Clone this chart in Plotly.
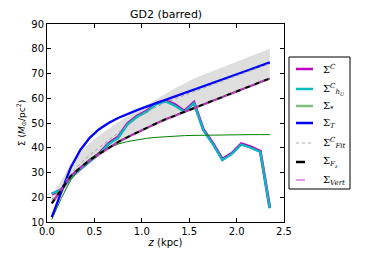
import plotly.graph_objects as go

z = [0.05, 0.15, 0.25, 0.35, 0.45, 0.55, 0.65, 0.75, 0.85, 0.95, 1.05, 1.15,
     1.25, 1.35, 1.45, 1.55, 1.65, 1.75, 1.85, 1.95, 2.05, 2.15, 2.25, 2.35]

sigma_c = [21.3, 23.0, 28.2, 31.5, 34.7, 37.7, 41.8, 44.3, 49.8, 52.8, 54.8, 57.9,
           59.1, 57.4, 54.8, 58.3, 47.3, 41.8, 35.3, 37.8, 41.6, 40.3, 38.6, 15.8]
sigma_c_hu = [21.5, 23.0, 28.0, 31.5, 34.5, 37.5, 41.5, 44.0, 49.5, 52.5, 54.5, 57.5,
              58.7, 57.0, 54.5, 58.0, 47.0, 41.5, 35.0, 37.5, 41.3, 40.0, 38.3, 15.5]
sigma_star = [11.0, 19.5, 27.0, 32.0, 35.5, 38.0, 40.0, 41.5, 42.5, 43.3, 43.8, 44.2,
              44.5, 44.7, 44.9, 45.0, 45.1, 45.1, 45.2, 45.2, 45.2, 45.3, 45.3, 45.3]
sigma_t = [12.0, 22.0, 32.0, 39.0, 44.0, 47.5, 50.0, 52.0, 53.7, 55.2, 56.6, 58.0,
           59.3, 60.6, 62.0, 63.6, 65.0, 66.3, 67.6, 68.9, 70.3, 71.7, 73.1, 74.5]
sigma_fit = [19.0, 24.5, 29.5, 33.5, 37.0, 40.0, 43.0, 46.0, 49.0, 52.0, 54.5, 56.5,
             58.3, 59.8, 61.3, 62.8, 64.2, 65.6, 67.0, 68.4, 69.8, 71.2, 72.6, 74.0]
sigma_fz = [17.5, 23.0, 28.5, 32.0, 35.0, 37.5, 40.0, 42.3, 44.3, 46.2, 48.0, 49.8,
            51.5, 53.0, 54.6, 55.8, 57.3, 58.8, 60.3, 61.9, 63.4, 64.9, 66.5, 68.0]
sigma_vert = sigma_fz
band_upper = [20.5, 27.0, 33.0, 38.0, 42.0, 45.0, 47.8, 50.3, 52.7, 55.0, 57.2, 59.5,
              62.0, 64.0, 66.0, 68.0, 69.5, 71.0, 72.5, 74.0, 75.5, 77.0, 78.5, 80.0]
band_lower = [17.0, 21.0, 26.5, 30.5, 34.0, 36.5, 39.0, 41.5, 43.5, 45.5, 47.3, 49.0,
              50.7, 52.3, 54.0, 55.5, 57.0, 58.5, 60.0, 61.5, 63.0, 64.5, 66.0, 68.0]

x_ticks = [0.0, 0.5, 1.0, 1.5, 2.0, 2.5]
y_ticks = [10, 20, 30, 40, 50, 60, 70, 80, 90]

legend_names = [
    "Σ<sup><i>C</i></sup>",
    "Σ<sup><i>C</i></sup><sub><i>h<sub>U</sub></i></sub>",
    "Σ<sub>*</sub>",
    "Σ<sub><i>T</i></sub>",
    "Σ<sup><i>C</i></sup><sub><i>Fit</i></sub>",
    "Σ<sub><i>F<sub>z</sub></i></sub>",
    "Σ<sub><i>Vert</i></sub>",
]
legend_colors = ["#bf00bf", "#00bfbf", "#7fbf7f", "#0000ff", "#aaaaaa", "#000000", "#e070e0"]
legend_dash = ["solid", "solid", "solid", "solid", "dot", "dash", "dash"]
legend_width = [2.5, 2.5, 2.5, 2.5, 1, 2.5, 1.5]

fig = go.Figure()
fig.add_trace(go.Scatter(x=z, y=band_lower, mode="lines", line=dict(width=0),
                         showlegend=False, hoverinfo="skip"))
fig.add_trace(go.Scatter(x=z, y=band_upper, mode="lines", line=dict(width=0),
                         fill="tonexty", fillcolor="rgba(205,205,205,0.65)",
                         showlegend=False, hoverinfo="skip"))

fig.add_trace(go.Scatter(x=z, y=sigma_c, mode="lines", line=dict(color="#bf00bf", width=3)))
fig.add_trace(go.Scatter(x=z, y=sigma_c_hu, mode="lines", line=dict(color="#00bfbf", width=2.3)))
fig.add_trace(go.Scatter(x=z, y=sigma_star, mode="lines", line=dict(color="#008000", width=1)))
fig.add_trace(go.Scatter(x=z, y=sigma_t, mode="lines", line=dict(color="#0000ff", width=2.3)))
fig.add_trace(go.Scatter(x=z, y=sigma_fit, mode="lines",
                         line=dict(color="#999999", width=1, dash="dot")))
fig.add_trace(go.Scatter(x=z, y=sigma_vert, mode="lines",
                         line=dict(color="#b030b0", width=2.2, dash="0px,5px,5px,0px")))
fig.add_trace(go.Scatter(x=z, y=sigma_fz, mode="lines",
                         line=dict(color="#000000", width=2.2, dash="5px,5px")))

# page body has an 8px margin, so figure pixel = window pixel - 8
OFF = 8
W, H = 382 - OFF, 254 - OFF
L, R, T, B = 47 - OFF, 284 - OFF, 24 - OFF, 222 - OFF
def px(xp):
    return (xp - OFF - L) / (R - L)
def py(yp):
    return (B - (yp - OFF)) / (B - T)

shapes = [dict(type="rect", xref="paper", yref="paper", x0=px(289), x1=px(350),
               y0=py(189), y1=py(57), line=dict(color="black", width=1),
               fillcolor="white", layer="above")]
annotations = [dict(text="GD2 (barred)", x=0.5, xref="paper", xanchor="center",
                    y=1, yref="paper", yanchor="bottom", yshift=1, showarrow=False,
                    font=dict(size=11))]
entry_y = [69, 89, 106, 123, 143, 162, 180]
for name, col, dsh, w, ey in zip(legend_names, legend_colors, legend_dash, legend_width, entry_y):
    shapes.append(dict(type="line", xref="paper", yref="paper", x0=px(296), x1=px(313),
                       y0=py(ey), y1=py(ey), line=dict(color=col, width=w, dash=dsh),
                       layer="above"))
    annotations.append(dict(text=name, x=px(321), y=py(ey), xref="paper", yref="paper",
                            xanchor="left", yanchor="middle", showarrow=False,
                            font=dict(family="DejaVu Serif", size=10, color="black")))

axis_common = dict(showline=True, linecolor="black", linewidth=1, mirror="ticks",
                   ticks="inside", ticklen=4, tickcolor="black", showgrid=False,
                   zeroline=False, automargin=False, tickfont=dict(size=10, color="black"))

fig.update_layout(
    width=W, height=H,
    margin=dict(l=L, r=W - R, t=T, b=H - B),
    paper_bgcolor="white", plot_bgcolor="white",
    font=dict(family="DejaVu Sans", size=10, color="black"),
    shapes=shapes, annotations=annotations,
    xaxis=dict(range=[0, 2.5], tickvals=x_ticks, tickformat=".1f",
               title=dict(text="<i>z</i> (kpc)", font=dict(size=10), standoff=2),
               **axis_common),
    yaxis=dict(range=[10, 90], tickvals=y_ticks,
               title=dict(text="Σ (<i>M</i><sub>⊙</sub>/pc<sup>2</sup>)", font=dict(size=9),
                          standoff=4),
               **axis_common),
    showlegend=False,
)

fig.write_html("out.html")
